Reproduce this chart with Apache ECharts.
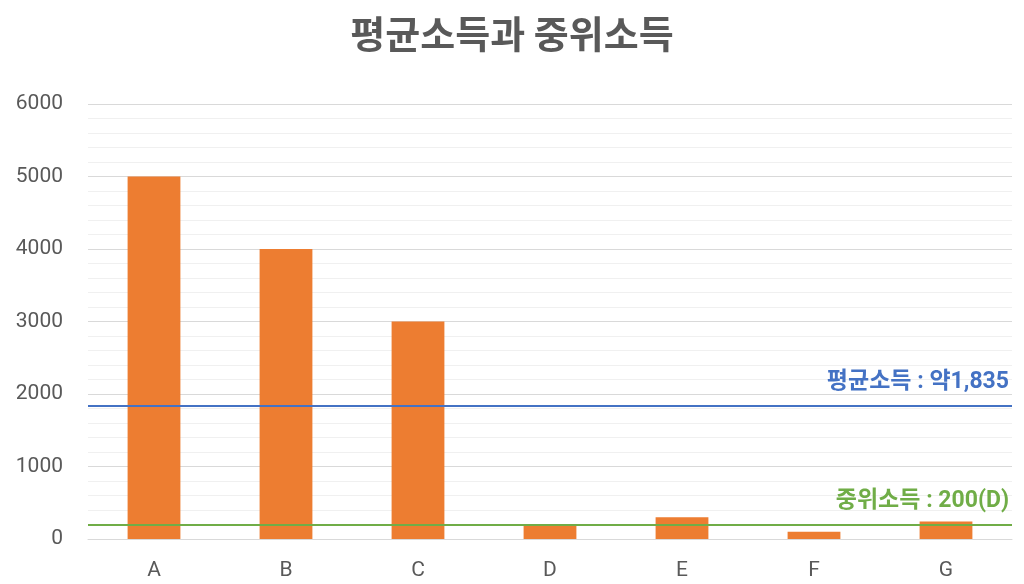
<!DOCTYPE html>
<html><head><meta charset="utf-8">
<script src="https://cdn.jsdelivr.net/npm/echarts@6/dist/echarts.min.js"></script>
<style>html,body{margin:0;padding:0;background:#fff}#c{width:1024px;height:584px}</style>
</head><body><div id="c"></div>
<script>
const categories = ['A','B','C','D','E','F','G'];
const incomes = [5000, 4000, 3000, 200, 300, 100, 240];
const meanIncome = 1835;
const medianIncome = 200;
const meanLabel = '평균소득 : 약1,835';
const medianLabel = '중위소득 : 200(D)';
const titleText = '평균소득과 중위소득';

const FONT = "Roboto, 'Noto Sans CJK KR', sans-serif";
const chart = echarts.init(document.getElementById('c'));
chart.setOption({
  animation: false,
  textStyle: { fontFamily: FONT },
  title: {
    text: titleText, left: 'center', top: 10,
    textStyle: { fontSize: 38, fontWeight: 'bold', color: '#595959', fontFamily: "'Noto Sans CJK KR', sans-serif" }
  },
  grid: { left: 88, right: 12, top: 104, bottom: 45 },
  xAxis: {
    type: 'category', data: categories,
    axisLine: { show: true, lineStyle: { color: '#d9d9d9', width: 1 } },
    axisTick: { show: false },
    axisLabel: { color: '#595959', fontSize: 21, margin: 21, fontFamily: FONT }
  },
  yAxis: {
    type: 'value', min: 0, max: 6000, interval: 1000,
    axisLine: { show: false }, axisTick: { show: false },
    axisLabel: { color: '#595959', fontSize: 21, margin: 25, fontFamily: FONT, formatter: v => String(v) },
    splitLine: { lineStyle: { color: '#d9d9d9', width: 1 } },
    minorTick: { show: false, splitNumber: 5 },
    minorSplitLine: { show: true, lineStyle: { color: '#f0f0f0', width: 1 } }
  },
  series: [{
    type: 'bar', data: incomes, barWidth: '40%',
    itemStyle: { color: '#ED7D31' },
    markLine: {
      symbol: 'none', silent: true,
      data: [
        { yAxis: meanIncome, lineStyle: { color: '#4472C4', width: 2.2, type: 'solid' },
          label: { formatter: meanLabel, color: '#4472C4' } },
        { yAxis: medianIncome, lineStyle: { color: '#70AD47', width: 2.2, type: 'solid' },
          label: { formatter: medianLabel, color: '#70AD47' } }
      ],
      label: { show: true, position: 'insideEndTop', fontSize: 23, fontWeight: 'bold', distance: [3, 12], fontFamily: FONT }
    }
  }]
});
</script></body></html>
